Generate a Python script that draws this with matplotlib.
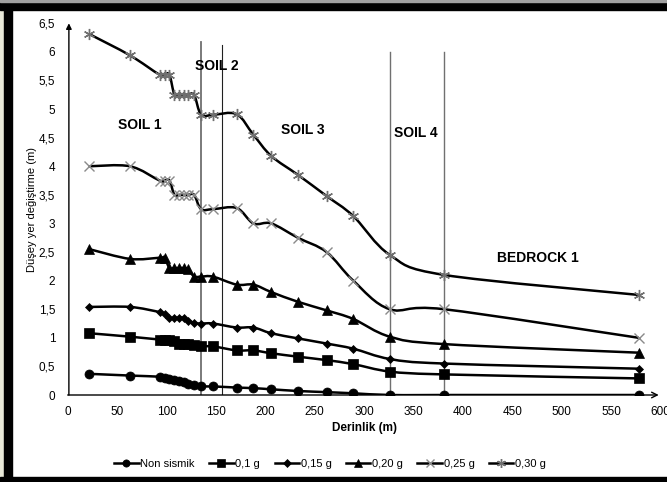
import numpy as np
import matplotlib
matplotlib.use("Agg")
import matplotlib.pyplot as plt
from matplotlib.path import Path
from matplotlib.patches import PathPatch, Rectangle

plt.rcParams['font.family'] = ['Liberation Sans', 'DejaVu Sans']

# depth (m)
derinlik = [22, 63, 93, 98, 103, 108, 113, 118, 122, 128, 135, 147, 171, 188,
            206, 233, 262, 289, 326, 381, 578]

non_sismik = [0.37, 0.34, 0.32, 0.30, 0.28, 0.26, 0.24, 0.22, 0.20, 0.17, 0.15,
              0.15, 0.13, 0.12, 0.10, 0.07, 0.05, 0.03, 0.0, 0.0, 0.0]
g010 = [1.08, 1.02, 0.97, 0.97, 0.96, 0.95, 0.90, 0.90, 0.90, 0.88, 0.85,
        0.85, 0.78, 0.78, 0.73, 0.67, 0.61, 0.54, 0.41, 0.36, 0.29]
g015 = [1.54, 1.54, 1.45, 1.42, 1.35, 1.35, 1.35, 1.35, 1.30, 1.26, 1.25,
        1.25, 1.18, 1.18, 1.08, 0.99, 0.90, 0.81, 0.63, 0.55, 0.46]
g020 = [2.55, 2.38, 2.40, 2.40, 2.22, 2.22, 2.22, 2.22, 2.20, 2.07, 2.07,
        2.07, 1.93, 1.93, 1.80, 1.63, 1.48, 1.33, 1.02, 0.89, 0.74]
g025 = [4.00, 4.00, 3.75, 3.75, 3.75, 3.50, 3.50, 3.50, 3.50, 3.50, 3.25,
        3.25, 3.27, 3.00, 3.00, 2.75, 2.50, 2.00, 1.50, 1.50, 1.00]
g030 = [6.31, 5.94, 5.60, 5.60, 5.60, 5.25, 5.25, 5.25, 5.25, 5.25, 4.90,
        4.90, 4.91, 4.55, 4.18, 3.85, 3.48, 3.13, 2.45, 2.10, 1.75]

labels = ['Non sismik', '0,1 g', '0,15 g', '0,20 g', '0,25 g', '0,30 g']

# layer boundaries: x, top of line
sinirlar = [135, 156, 326, 381]
sinir_ust = [6.17, 6.12, 6.0, 6.0]

# zone labels
bolge_adlari = ['SOIL 1', 'SOIL 2', 'SOIL 3', 'SOIL 4', 'BEDROCK 1']
bolge_x = [73, 151, 238, 352, 476]
bolge_y = [4.72, 5.75, 4.63, 4.58, 2.40]


def smooth_path(x, y):
    # Excel-like smoothed line as cubic bezier through the points
    p = np.column_stack([x, y]).astype(float)
    n = len(p)
    verts = [p[0]]
    codes = [Path.MOVETO]
    for i in range(n - 1):
        p0 = p[i - 1] if i > 0 else p[i]
        p3 = p[i + 2] if i + 2 < n else p[i + 1]
        c1 = p[i] + (p[i + 1] - p0) / 6.0
        c2 = p[i + 1] - (p3 - p[i]) / 6.0
        verts += [c1, c2, p[i + 1]]
        codes += [Path.CURVE4] * 3
    return Path(verts, codes)


fig = plt.figure(figsize=(6.67, 4.82), dpi=100)
W, H = 667.0, 482.0

# outer frame like the screenshot
fig.patches.append(Rectangle((0, 0), 4 / W, 1, transform=fig.transFigure,
                             color='#e8e8d8', zorder=0))
fig.patches.append(Rectangle((4 / W, 0), 8 / W, 1, transform=fig.transFigure,
                             color='black', zorder=1))
fig.patches.append(Rectangle((0, 1 - 10 / H), 1, 8 / H, transform=fig.transFigure,
                             color='black', zorder=1))
fig.patches.append(Rectangle((0, 1 - 2 / H), 1, 2 / H, transform=fig.transFigure,
                             color='#a0a0a0', zorder=1))
fig.patches.append(Rectangle((0, 0), 1, 5.5 / H, transform=fig.transFigure,
                             color='black', zorder=1))

ax = fig.add_axes([67.7 / W, (H - 395) / H, 592.8 / W, 371.7 / H])
ax.set_xlim(0, 600)
ax.set_ylim(0, 6.5)
for s in ax.spines.values():
    s.set_visible(False)
ax.patch.set_alpha(0)

# axes with arrows
ax.annotate('', xy=(0.997, 0), xytext=(0, 0), xycoords='axes fraction',
            arrowprops=dict(arrowstyle='->', lw=1.0, color='black',
                            shrinkA=0, shrinkB=0), annotation_clip=False)
ax.annotate('', xy=(0.002, 1.0), xytext=(0.002, 0), xycoords='axes fraction',
            arrowprops=dict(arrowstyle='-|>', lw=1.0, color='black',
                            shrinkA=0, shrinkB=0, mutation_scale=8),
            annotation_clip=False)

ax.set_xticks(np.arange(0, 601, 50))
ax.set_yticks(np.arange(0, 6.51, 0.5))
ax.set_xticklabels([str(v) for v in range(0, 601, 50)])
ax.set_yticklabels([('%g' % v).replace('.', ',') for v in np.arange(0, 6.51, 0.5)])
ax.tick_params(axis='both', length=0, labelsize=8.5)
ax.tick_params(axis='y', pad=9)
ax.tick_params(axis='x', pad=8)

for xv, top, col, lw in zip(sinirlar, sinir_ust,
                            ['#707070', '#202020', '#707070', '#707070'],
                            [1.3, 0.8, 1.0, 1.0]):
    ax.plot([xv, xv], [0, top], color=col, lw=lw, zorder=2)

series = [non_sismik, g010, g015, g020, g025, g030]
styles = [
    dict(marker='o', ms=6.5, mfc='black', mec='black', mew=0.5),
    dict(marker='s', ms=6.5, mfc='black', mec='black', mew=0.5),
    dict(marker='D', ms=4.5, mfc='black', mec='black', mew=0.5),
    dict(marker='^', ms=7.5, mfc='black', mec='black', mew=0.5),
    dict(marker='x', ms=7, mfc='none', mec='#8a8a8a', mew=1.0),
    dict(marker=(6, 2, 0), ms=8, mfc='none', mec='#707070', mew=1.0),
]

handles = []
for y, st, lab in zip(series, styles, labels):
    patch = PathPatch(smooth_path(derinlik, y), facecolor='none',
                      edgecolor='black', lw=1.8, zorder=3)
    ax.add_patch(patch)
    ax.plot(derinlik, y, linestyle='none', zorder=4, **st)
    h, = ax.plot([], [], color='black', lw=1.8, **st)
    handles.append(h)

for t, xv, yv in zip(bolge_adlari, bolge_x, bolge_y):
    ax.text(xv, yv, t, fontsize=10, fontweight='bold', ha='center',
            va='center', color='black')

ax.set_xlabel('Derinlik (m)', fontsize=8.5, fontweight='bold', labelpad=3)
ax.set_ylabel('Düşey yer değiştirme (m)', fontsize=8, labelpad=1)

fig.legend(handles=handles, labels=labels, loc='center',
           bbox_to_anchor=(330 / W, (H - 464) / H), ncol=6, frameon=False,
           fontsize=8, handlelength=2.2, handletextpad=0.15,
           columnspacing=1.3, markerscale=0.8)

fig.savefig('out.png', dpi=100)
